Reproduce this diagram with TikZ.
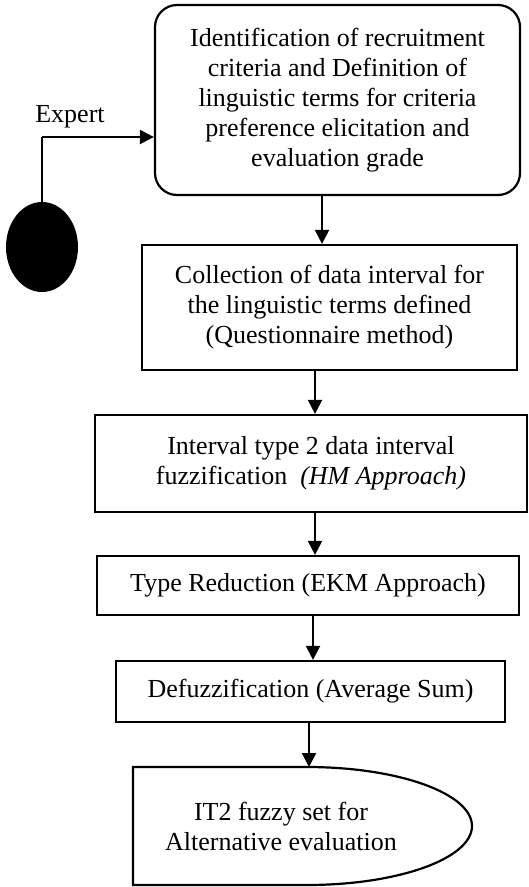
\documentclass[tikz,border=0pt]{standalone}
\usepackage{fontspec}
\setmainfont{Liberation Serif}
\usetikzlibrary{arrows.meta,shapes.geometric}

\begin{document}
\begin{tikzpicture}[
    x=1pt, y=-1pt,
    every node/.style={font=\fontsize{26}{30}\selectfont},
    stagebox/.style={draw, line width=2.2pt, align=center, inner sep=0pt},
    startbox/.style={stagebox, rounded corners=22pt},
    actor/.style={ellipse, fill=black, inner sep=0pt, minimum width=72pt, minimum height=90pt},
    flow/.style={-{Triangle[length=14pt, width=14pt]}, line width=2.2pt},
    stem/.style={line width=1.1pt}
]
\useasboundingbox (0,0) rectangle (529,887);
\node[startbox, minimum width=365pt, minimum height=190pt] (criteria) at (337.5,100) {Identification of recruitment\\criteria and Definition of\\linguistic terms for criteria\\preference elicitation and\\evaluation grade};
\node[stagebox, minimum width=375pt, minimum height=125pt] (collect) at (329.5,307.5) {Collection of data interval for\\the linguistic terms defined\\(Questionnaire method)};
\node[stagebox, minimum width=432pt, minimum height=97pt] (fuzzify) at (311,463.5) {Interval type 2 data interval\\fuzzification~ \textit{(HM Approach)}};
\node[stagebox, minimum width=422pt, minimum height=59pt] (reduce) at (308,585.5) {Type Reduction (EKM Approach)};
\node[stagebox, minimum width=389pt, minimum height=61pt] (defuzz) at (310.5,691.5) {Defuzzification (Average Sum)};
\node[align=center] (result) at (281,826) {IT2 fuzzy set for\\Alternative evaluation};
\node[actor] (expert) at (42,247) {};
\node (expertlabel) at (70,117) {Expert};
\coordinate (bend) at (42,137);
\coordinate (resulttop) at (309,767);
% actor to first stage
\draw[stem] (expert.north) -- (bend);
\draw[flow] (bend) -- (bend -| criteria.west);
% stage to stage
\draw[flow] (criteria.south -| 322,0) -- (collect.north -| 322,0);
\draw[flow] (collect.south -| 315,0) -- (fuzzify.north -| 315,0);
\draw[flow] (fuzzify.south -| 315,0) -- (reduce.north -| 315,0);
\draw[flow] (reduce.south -| 313,0) -- (defuzz.north -| 313,0);
\draw[flow] (defuzz.south -| resulttop) -- (resulttop);
% output shape
\draw[line width=2.2pt] (133,767) -- (307,767) arc[start angle=90, end angle=-90, x radius=165pt, y radius=59pt] -- (133,885) -- cycle;
\end{tikzpicture}
\end{document}
